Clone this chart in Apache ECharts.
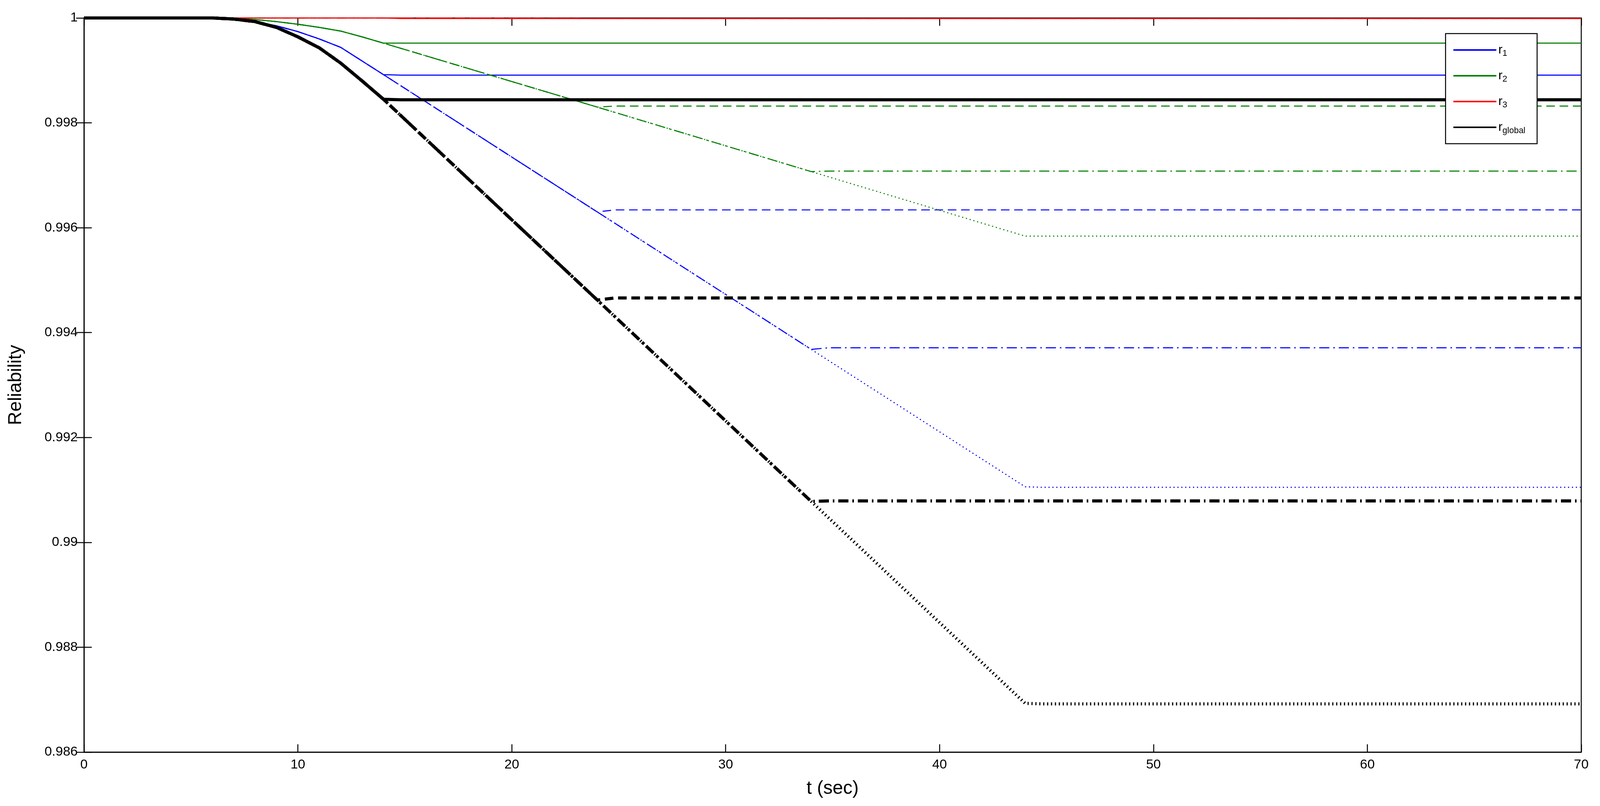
<!DOCTYPE html>
<html>
<head>
<meta charset="utf-8">
<script src="https://cdn.jsdelivr.net/npm/echarts@6/dist/echarts.min.js"></script>
<style>html,body{margin:0;background:#fff;overflow:hidden}#c{width:100vw;height:100vh}</style>
</head>
<body>
<div id="c"></div>
<script>
// decay curve sample times, shared by every family
const decayT = [0, 6, 7, 8, 9, 10, 11, 12, 13, 14, 24, 34, 44];
const r1Decay = [1, 1, 0.99998, 0.99993, 0.99985, 0.99974, 0.99960, 0.99944, 0.99918, 0.99892, 0.99630, 0.99368, 0.99106];
const r2Decay = [1, 1, 0.99999, 0.99997, 0.99993, 0.99988, 0.99982, 0.99975, 0.99964, 0.99952, 0.99830, 0.99707, 0.99584];
const r3Decay = [1, 1, 1, 1, 1, 1, 1, 1, 1, 1, 0.99999, 0.99999, 0.99999];
const gDecay = [1, 1, 0.99998, 0.99993, 0.99982, 0.99964, 0.99943, 0.99914, 0.99880, 0.99845, 0.99462, 0.99078, 0.98693];
// scenario end times and plateau levels (solid, dashed, dash-dot, dotted)
const endT = [14, 24, 34, 44];
const r1Plateau = [0.99891, 0.99634, 0.99371, 0.99105];
const r2Plateau = [0.99952, 0.99832, 0.99708, 0.99584];
const r3Plateau = [0.99999, 0.99999, 0.99999, 0.99999];
const gPlateau = [0.99844, 0.99466, 0.99079, 0.98692];

const styles = ['solid', [22, 12], [26, 10, 4, 10], [3, 7]];
const families = [
  {name: 'r1', color: '#0000ff', w: 2.7, decay: r1Decay, plateau: r1Plateau},
  {name: 'r2', color: '#008000', w: 2.7, decay: r2Decay, plateau: r2Plateau},
  {name: 'r3', color: '#ff0000', w: 2.7, decay: r3Decay, plateau: r3Plateau},
  {name: 'rglobal', color: '#000000', w: 8, decay: gDecay, plateau: gPlateau}
];

const series = [];
families.forEach(f => {
  endT.forEach((te, k) => {
    const pts = [];
    decayT.forEach((t, i) => { if (t <= te) pts.push([t, f.decay[i]]); });
    pts.push([te + 0.8, f.plateau[k]]);
    pts.push([70, f.plateau[k]]);
    series.push({
      name: k === 0 ? f.name : f.name + '_' + k,
      type: 'line', data: pts, showSymbol: false,
      lineStyle: {color: f.color, width: f.w, type: styles[k]},
      itemStyle: {color: f.color},
      z: f.name === 'rglobal' ? 3 : 2
    });
  });
});

const chart = echarts.init(document.getElementById('c'));
const lbl = {fontFamily: 'Arial, Liberation Sans', fontSize: 34, color: '#000', margin: 16};
const tick = {inside: true, length: 20, lineStyle: {color: '#000', width: 2.5}};
chart.setOption({
  animation: false,
  backgroundColor: '#fff',
  grid: {left: 215, right: 48, top: 46, bottom: 138, show: true, borderColor: '#000', borderWidth: 2.5},
  legend: {
    data: families.map(f => f.name), orient: 'vertical', right: 161, top: 86,
    backgroundColor: '#fff', borderColor: '#000', borderWidth: 2.5, padding: [26, 30, 22, 20],
    icon: 'rect', itemWidth: 110, itemHeight: 4, itemGap: 30,
    textStyle: {fontFamily: 'Arial, Liberation Sans', fontSize: 32, color: '#000',
      rich: {s: {fontSize: 22, verticalAlign: 'bottom', padding: [18, 0, 0, 0]}, b: {fontSize: 32}}},
    formatter: n => '{b|r}{s|' + (n === 'rglobal' ? 'global' : n.slice(1)) + '}'
  },
  xAxis: [{
    type: 'value', min: 0, max: 70, interval: 10, name: 't (sec)', nameLocation: 'middle', nameGap: 70,
    nameTextStyle: {fontFamily: 'Arial, Liberation Sans', fontSize: 48, color: '#000'},
    axisLine: {lineStyle: {color: '#000', width: 2.5}},
    axisTick: tick, axisLabel: lbl, splitLine: {show: false}
  }, {
    type: 'value', min: 0, max: 70, interval: 10, position: 'top',
    axisLine: {show: false}, axisTick: tick, axisLabel: {show: false}, splitLine: {show: false}
  }],
  yAxis: [{
    type: 'value', min: 0.986, max: 1, interval: 0.002, name: 'Reliability', nameLocation: 'middle', nameGap: 150,
    nameTextStyle: {fontFamily: 'Arial, Liberation Sans', fontSize: 48, color: '#000'},
    axisLine: {show: true, lineStyle: {color: '#000', width: 2.5}},
    axisTick: Object.assign({show: true}, tick),
    axisLabel: Object.assign({formatter: v => String(parseFloat(v.toFixed(3)))}, lbl),
    splitLine: {show: false}
  }, {
    type: 'value', min: 0.986, max: 1, interval: 0.002, position: 'right',
    axisLine: {show: false}, axisTick: Object.assign({show: true}, tick),
    axisLabel: {show: false}, splitLine: {show: false}
  }],
  series: series
});
</script>
</body>
</html>
